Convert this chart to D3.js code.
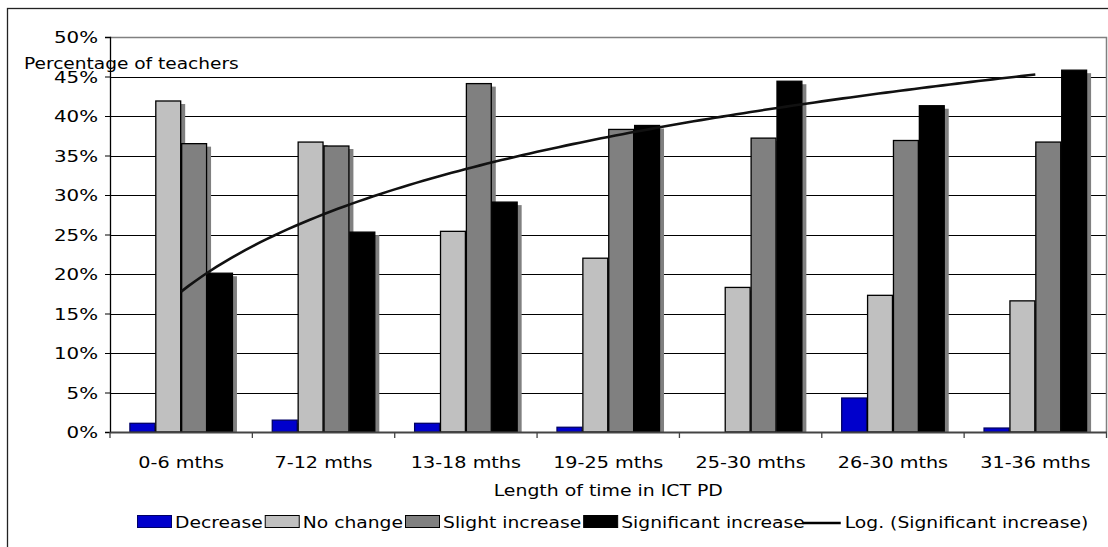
<!DOCTYPE html>
<html><head><meta charset="utf-8">
<script src="https://cdn.jsdelivr.net/npm/d3@7"></script>
<style>
html,body{margin:0;padding:0;background:#fff;}
svg{display:block;}
text{font-family:"DejaVu Sans",Verdana,sans-serif;fill:#000;}
</style></head>
<body><svg id="c" width="1108" height="547"></svg>
<script>
const categories = ["0-6 mths","7-12 mths","13-18 mths","19-25 mths","25-30 mths","26-30 mths","31-36 mths"];
const seriesNames = ["Decrease","No change","Slight increase","Significant increase"];
const decrease    = [1.1, 1.5, 1.1, 0.6, 0.0, 4.3, 0.5];
const noChange    = [41.9, 36.7, 25.4, 22.0, 18.3, 17.3, 16.6];
const slight      = [36.5, 36.2, 44.1, 38.3, 37.2, 36.9, 36.7];
const significant = [20.1, 25.3, 29.1, 38.8, 44.4, 41.3, 45.8];
const yTicks = [0,5,10,15,20,25,30,35,40,45,50];
const trendName = "Log. (Significant increase)";
const yTitle = "Percentage of teachers";
const xTitle = "Length of time in ICT PD";

const seriesValues = [decrease, noChange, slight, significant];
const colors = ["#0000CC","#C0C0C0","#808080","#000000"];
const strokes = ["#000066","#000","#000","#000"];

const FS = 16;
const svg = d3.select("#c");
function txt(g, x, y, s, anchor, sx){
  return g.append("text").attr("transform",`translate(${x},${y}) scale(${sx||1.18},1)`)
    .attr("text-anchor",anchor||"start").style("font-size",FS+"px").text(s);
}

// outer border
svg.append("rect").attr("x",7.5).attr("y",8.5).attr("width",1200).attr("height",600)
  .attr("fill","none").attr("stroke","#222").attr("stroke-width",1.3);

const L = 110, R = 1106.5, T = 37, B = 432;
const x = d3.scaleBand().domain(categories).range([L,R]).padding(0);
const bw = x.bandwidth(), w = bw/5.5;
const xs = d3.scaleBand().domain(d3.range(4)).range([0.75*w, bw-0.75*w]).padding(0);
const y = d3.scaleLinear().domain([0,50]).range([B,T]);

// gridlines
svg.append("g").selectAll("line").data(yTicks.filter(t=>t>0 && t<50)).join("line")
  .attr("x1",L).attr("x2",R).attr("y1",d=>Math.round(y(d))+0.5).attr("y2",d=>Math.round(y(d))+0.5)
  .attr("stroke","#000").attr("stroke-width",1);
// plot border top/right
svg.append("path").attr("d",`M${L},${Math.round(y(50))+0.5}H${R}V${B}`).attr("fill","none").attr("stroke","#808080").attr("stroke-width",1.5);

// bars
seriesValues.forEach((vals,si)=>{
  const g = svg.append("g");
  const data = vals.map((v,i)=>({v,c:categories[i]})).filter(d=>d.v>0);
  g.selectAll("rect.sh").data(data).join("rect")
    .attr("x",d=>x(d.c)+xs(si)+4).attr("y",d=>y(d.v)+3).attr("width",xs.bandwidth())
    .attr("height",d=>B-y(d.v)-3).attr("fill","#808080");
  g.selectAll("rect.b").data(data).join("rect")
    .attr("x",d=>x(d.c)+xs(si)+0.5).attr("y",d=>y(d.v)).attr("width",xs.bandwidth()-1)
    .attr("height",d=>B-y(d.v)).attr("fill",colors[si]).attr("stroke",strokes[si]).attr("stroke-width",1.3);
});

// axes
const ya = svg.append("g").attr("transform",`translate(${L},0)`)
  .call(d3.axisLeft(y).tickValues(yTicks).tickSize(5).tickFormat(d=>d+"%"));
ya.select(".domain").attr("stroke","#000").attr("stroke-width",1.3);
ya.selectAll(".tick line").attr("stroke","#000");
ya.selectAll(".tick text").remove();
yTicks.forEach(t=>txt(svg, 98, y(t)+6, t+"%", "end", 1.24));

const xa = svg.append("g").attr("transform",`translate(0,${B})`)
  .call(d3.axisBottom(x).tickSize(0).tickFormat(""));
xa.select(".domain").attr("stroke","#444").attr("stroke-width",2);
svg.append("g").selectAll("line").data(d3.range(categories.length+1)).join("line")
  .attr("x1",i=>L+i*bw).attr("x2",i=>L+i*bw).attr("y1",B).attr("y2",B+6)
  .attr("stroke","#444").attr("stroke-width",1.3);
categories.forEach(c=>txt(svg, x(c)+bw/2, 468, c, "middle", 1.2));

// log trend line (least squares on ln(index))
const lx = significant.map((v,i)=>Math.log(i+1));
const mx = d3.mean(lx), my = d3.mean(significant);
const a = d3.sum(lx.map((l,i)=>(l-mx)*(significant[i]-my)))/d3.sum(lx.map(l=>(l-mx)*(l-mx)));
const b = my - a*mx;
const trendPts = d3.range(0,6.001,0.05).map(t=>[x(categories[0])+bw/2 + t*bw, y(a*Math.log(t+1)+b)]);
svg.append("path").attr("d",d3.line()(trendPts)).attr("fill","none").attr("stroke","#111").attr("stroke-width",2.6);

// titles
txt(svg, 24, 69, yTitle, "start", 1.16);
txt(svg, (L+R)/2, 496, xTitle, "middle", 1.18);

// legend
const lg = svg.append("g");
const LSX = 1.17;
let cx = 137; const ly = 522;
seriesNames.forEach((n,i)=>{
  lg.append("rect").attr("x",cx+0.5).attr("y",ly-6.5).attr("width",34).attr("height",12)
    .attr("fill",colors[i]).attr("stroke",strokes[i]).attr("stroke-width",1);
  cx += 38;
  const t = txt(lg, cx, ly+6, n, "start", LSX);
  cx += t.node().getComputedTextLength()*LSX + 2;
});
lg.append("line").attr("x1",cx-4).attr("x2",cx+34).attr("y1",ly+1).attr("y2",ly+1).attr("stroke","#000").attr("stroke-width",2.6);
cx += 38;
txt(lg, cx, ly+6, trendName, "start", LSX);
</script></body></html>
